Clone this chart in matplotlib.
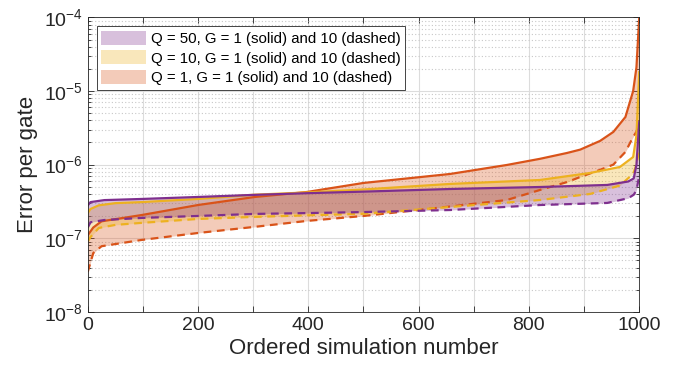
import numpy as np
import matplotlib.pyplot as plt
from matplotlib.patches import Patch
from matplotlib.ticker import LogLocator, NullFormatter, FixedLocator

plt.rcParams['font.family'] = ['Liberation Sans', 'DejaVu Sans']
plt.rcParams['mathtext.fontset'] = 'custom'
plt.rcParams['mathtext.rm'] = 'Liberation Sans'
plt.rcParams['mathtext.it'] = 'Liberation Sans'

# values (ordered simulation number -> error per gate)
q50_x = [0, 5, 30, 98, 200, 300, 400, 500, 657, 820, 942, 980, 990, 995, 1000]
q50_g1 = [2.8e-7, 3.1e-7, 3.3e-7, 3.42e-7, 3.64e-7, 3.88e-7, 4.1e-7, 4.3e-7,
          4.67e-7, 4.97e-7, 5.3e-7, 5.9e-7, 6.5e-7, 1.0e-6, 3.8e-6]
q50_g10 = [1.4e-7, 1.65e-7, 1.77e-7, 1.89e-7, 2.01e-7, 2.14e-7, 2.2e-7, 2.27e-7,
           2.42e-7, 2.83e-7, 3.02e-7, 3.5e-7, 3.9e-7, 4.5e-7, 7e-7]

q10_x = [0, 5, 20, 50, 98, 200, 300, 400, 500, 657, 820, 911, 965, 989, 995, 1000]
q10_g1 = [2.2e-7, 2.5e-7, 2.8e-7, 3.0e-7, 3.1e-7, 3.42e-7, 3.9e-7, 4.2e-7, 4.6e-7,
          5.47e-7, 6.19e-7, 7.71e-7, 9.3e-7, 1.27e-6, 2.5e-6, 1.8e-5]
q10_g10 = [9e-8, 1.04e-7, 1.38e-7, 1.52e-7, 1.62e-7, 1.83e-7, 1.95e-7, 2.05e-7, 2.15e-7,
           2.66e-7, 3.31e-7, 4.0e-7, 5.2e-7, 7.5e-7, 1.0e-6, 1.6e-6]

q1_x = [0, 10, 25, 98, 200, 303, 397, 500, 657, 760, 820, 869, 893, 929, 953, 975, 989, 995, 1000]
q1_g1 = [1.1e-7, 1.4e-7, 1.7e-7, 2.07e-7, 2.83e-7, 3.64e-7, 4.25e-7, 5.64e-7, 7.47e-7,
         9.9e-7, 1.2e-6, 1.44e-6, 1.6e-6, 2.1e-6, 2.78e-6, 4.44e-6, 1.0e-5, 2.1e-5, 1e-4]
q1_g10 = [3.5e-8, 6.3e-8, 7.8e-8, 9.5e-8, 1.18e-7, 1.43e-7, 1.72e-7, 2.01e-7, 2.7e-7,
          3.31e-7, 4.53e-7, 5.8e-7, 6.8e-7, 8.5e-7, 1.0e-6, 1.49e-6, 2.38e-6, 2.8e-6, 3.5e-6]

labels = ['Q = 50, G = 1 (solid) and 10 (dashed)',
          'Q = 10, G = 1 (solid) and 10 (dashed)',
          'Q = 1, G = 1 (solid) and 10 (dashed)']
colors = ['#7E2F8E', '#EDB120', '#D95319']

fig = plt.figure(figsize=(6.75, 3.7), dpi=100)
ax = fig.add_axes([0.130, 0.157, 0.817, 0.796])

series = [(q1_x, q1_g1, q1_g10, colors[2]),
          (q10_x, q10_g1, q10_g10, colors[1]),
          (q50_x, q50_g1, q50_g10, colors[0])]
for x, g1, g10, c in series:
    ax.fill_between(x, g1, g10, color=c, alpha=0.3, linewidth=0)
for x, g1, g10, c in series:
    ax.plot(x, g1, color=c, lw=1.6)
    ax.plot(x, g10, color=c, lw=1.6, ls=(0, (3.5, 2.5)))

ax.set_yscale('log')
ax.set_ylim(1e-8, 1e-4)
ax.set_xlim(0, 1000)
ax.xaxis.set_major_locator(FixedLocator(np.arange(0, 1001, 100)))
ax.set_xticklabels([str(v) if v % 200 == 0 else '' for v in range(0, 1001, 100)])
ax.yaxis.set_minor_locator(LogLocator(base=10, subs=np.arange(2, 10)))
ax.yaxis.set_minor_formatter(NullFormatter())

ax.grid(True, which='major', color='#dcdcdc', lw=0.8)
ax.grid(True, which='minor', axis='y', color='#c8c8c8', lw=0.8, ls=(0, (1, 2)))
ax.set_axisbelow(True)

ax.tick_params(which='both', direction='in', top=True, right=True,
               labelsize=14, colors='#262626', length=4, width=0.6)
ax.tick_params(which='minor', length=2.5)
for s in ax.spines.values():
    s.set_color('#262626')
    s.set_linewidth(0.6)

ax.set_xlabel('Ordered simulation number', fontsize=16, color='#262626', labelpad=3)
ax.set_ylabel('Error per gate', fontsize=16, color='#262626')

handles = [Patch(facecolor=c, alpha=0.3, edgecolor='none') for c in colors]
leg = ax.legend(handles, labels, loc='upper left', fontsize=10.8, frameon=True,
                fancybox=False, edgecolor='#262626', framealpha=1,
                handlelength=3.0, handleheight=1.05, handletextpad=0.3,
                labelspacing=0.3, borderpad=0.3, borderaxespad=0.6)
leg.get_frame().set_linewidth(0.6)

fig.savefig('out.png', dpi=100)
